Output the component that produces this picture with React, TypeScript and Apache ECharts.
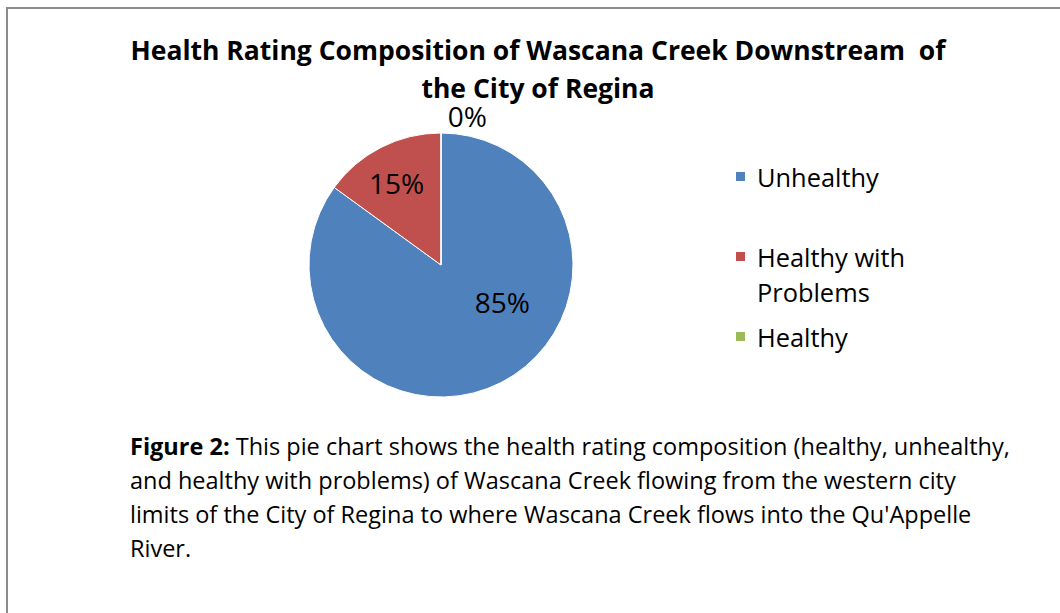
import React, { useEffect, useRef } from "react";
import * as echarts from "echarts";

const categories = ["Unhealthy", "Healthy with Problems", "Healthy"];
const values = [85, 15, 0];
const colors = ["#4F81BD", "#C0504D", "#9BBB59"];
const titleText = "Health Rating Composition of Wascana Creek Downstream  of\nthe City of Regina";
const captionLines = [
  "{b|Figure 2:} This pie chart shows the health rating composition (healthy, unhealthy,",
  "and healthy with problems) of Wascana Creek flowing from the western city",
  "limits of the City of Regina to where Wascana Creek flows into the Qu'Appelle",
  "River.",
];

const FONT = "Open Sans";

export default function App() {
  const ref = useRef<HTMLDivElement>(null);
  useEffect(() => {
    if (!ref.current) return;
    const chart = echarts.init(ref.current, undefined, { renderer: "svg" });
    const legendTops = [159, 204, 319];
    const labelShift = [
      { dx: 30, dy: -24 },
      { dx: -13, dy: -21 },
      { dx: 81, dy: -2 },
    ];
    chart.setOption({
      animation: false,
      backgroundColor: "#fff",
      title: [
        {
          text: titleText,
          left: 538,
          textAlign: "center",
          top: 31,
          padding: 0,
          textStyle: { fontFamily: FONT, fontSize: 26.5, fontWeight: "bold", color: "#000", lineHeight: 38 },
        },
        {
          text: captionLines.join("\n"),
          left: 130,
          top: 429,
          padding: 0,
          textStyle: {
            fontFamily: FONT,
            fontSize: 23.5,
            fontWeight: "normal",
            color: "#000",
            lineHeight: 34,
            rich: { b: { fontFamily: FONT, fontSize: 23.5, fontWeight: "bold", color: "#000", lineHeight: 34 } },
          },
        },
      ],
      legend: categories.map((c, i) => ({
        data: [c],
        orient: "vertical",
        left: 734,
        top: legendTops[i],
        padding: 0,
        itemWidth: 11,
        itemHeight: 11,
        icon: "rect",
        selectedMode: false,
        formatter: (n: string) => (n === "Healthy with Problems" ? "\nHealthy with\nProblems" : n),
        textStyle: { fontFamily: FONT, fontSize: 25.4, color: "#000", lineHeight: 35, padding: [0, 0, 0, 6] },
      })),
      graphic: [
        {
          type: "rect",
          shape: { x: 7, y: 8, width: 1200, height: 800 },
          style: { fill: "none", stroke: "#8c8c8c", lineWidth: 2 },
          silent: true,
          z: 100,
        },
      ],
      series: [
        {
          type: "pie",
          center: [441, 265],
          radius: 132,
          startAngle: 90,
          clockwise: true,
          data: categories.map((c, i) => ({
            name: c,
            value: values[i],
            itemStyle: { color: colors[i] },
            label: i === 2 ? { position: "outside", lineHeight: 18 } : { position: "inside" },
            labelLine: { show: false },
          })),
          itemStyle: { borderColor: "#fff", borderWidth: 1 },
          label: {
            show: true,
            formatter: "{d}%",
            fontFamily: FONT,
            fontSize: 28,
            color: "#000",
          },
          labelLine: { show: false },
          labelLayout: (p: any) => labelShift[p.dataIndex],
          emphasis: { disabled: true },
        },
      ],
    });
    return () => chart.dispose();
  }, []);
  return (
    <div
      ref={ref}
      style={{ position: "fixed", left: 0, top: 0, width: 1060, height: 613 }}
    />
  );
}
